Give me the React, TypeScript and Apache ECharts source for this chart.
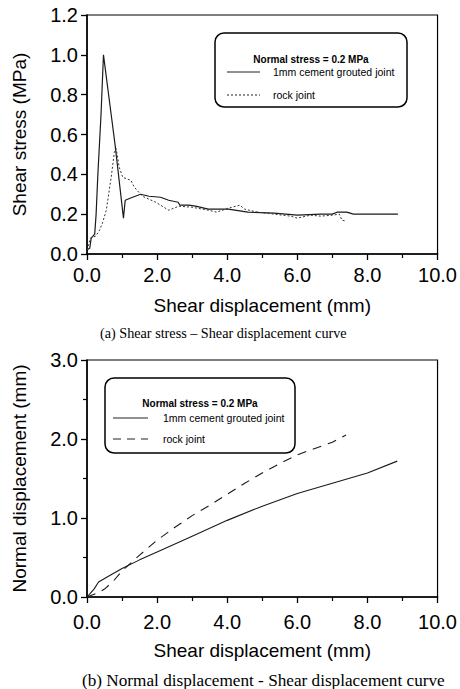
import { useEffect, useRef } from "react";
import * as echarts from "echarts";

// ---- Data: (a) shear stress vs shear displacement ----
const groutedShearX = [0, 0.08, 0.12, 0.22, 0.26, 0.31, 0.4, 0.47, 0.8, 1.04, 1.09, 1.3, 1.53, 1.77, 2.1, 2.33, 2.6, 2.65, 2.9, 3.1, 3.46, 4.03, 4.59, 5.34, 6.0, 6.66, 7.0, 7.13, 7.41, 7.6, 8.87];
const groutedShearY = [0.02, 0.03, 0.08, 0.1, 0.2, 0.4, 0.7, 1.0, 0.55, 0.18, 0.27, 0.285, 0.3, 0.29, 0.285, 0.27, 0.26, 0.245, 0.245, 0.24, 0.225, 0.225, 0.21, 0.205, 0.195, 0.2, 0.2, 0.21, 0.21, 0.2, 0.2];
const rockShearX = [0, 0.1, 0.25, 0.36, 0.45, 0.55, 0.69, 0.78, 0.83, 0.92, 1.02, 1.25, 1.35, 1.58, 1.96, 2.33, 2.62, 2.99, 3.46, 3.7, 4.03, 4.36, 4.5, 4.87, 5.34, 5.81, 6.0, 6.38, 6.66, 7.0, 7.2, 7.27, 7.39];
const rockShearY = [0.02, 0.08, 0.09, 0.12, 0.16, 0.22, 0.385, 0.51, 0.53, 0.435, 0.385, 0.37, 0.335, 0.29, 0.26, 0.22, 0.24, 0.235, 0.22, 0.21, 0.23, 0.245, 0.225, 0.21, 0.2, 0.19, 0.18, 0.195, 0.19, 0.195, 0.2, 0.17, 0.165];

// ---- Data: (b) normal displacement vs shear displacement ----
const groutedNormalX = [0, 0.1, 0.2, 0.33, 0.6, 1.0, 1.5, 2.0, 3.0, 4.0, 5.0, 6.0, 7.0, 8.0, 8.85];
const groutedNormalY = [0, 0.05, 0.1, 0.19, 0.26, 0.36, 0.47, 0.57, 0.77, 0.97, 1.15, 1.31, 1.44, 1.57, 1.72];
const rockNormalX = [0, 0.3, 0.5, 0.75, 1.0, 1.5, 2.0, 2.5, 3.0, 3.5, 4.0, 4.5, 5.0, 5.5, 6.0, 6.5, 7.0, 7.39];
const rockNormalY = [0, 0.05, 0.1, 0.2, 0.33, 0.53, 0.72, 0.88, 1.03, 1.16, 1.3, 1.44, 1.57, 1.69, 1.8, 1.88, 1.96, 2.05];

const seriesNames = ["1mm cement grouted joint", "rock joint"];
const legendTitle = "Normal stress = 0.2 MPa";
const captionA = "(a) Shear stress \u2013 Shear displacement curve";
const captionB = "(b) Normal displacement - Shear displacement curve";
const xTitle = "Shear displacement (mm)";
const yTitleA = "Shear stress (MPa)";
const yTitleB = "Normal displacement (mm)";

const SANS = "'Liberation Sans', Arial, sans-serif";
const SERIF = "'Liberation Serif', 'Times New Roman', serif";

const zip = (xs: number[], ys: number[]) => xs.map((x, i) => [x, ys[i]]);

function xAxisCfg(gridIndex: number, labelMargin: number, nameGap: number) {
  return {
    type: "value",
    gridIndex,
    min: 0,
    max: 10,
    interval: 2,
    name: xTitle,
    nameLocation: "middle",
    nameGap,
    nameTextStyle: { fontSize: 19, color: "#000", fontFamily: SANS },
    axisLine: { show: true, onZero: false, lineStyle: { color: "#000", width: 1.5 } },
    axisTick: { show: true, inside: false, length: 6, lineStyle: { color: "#000", width: 1.3 } },
    minorTick: { show: true, splitNumber: 2, length: 4, lineStyle: { color: "#000", width: 1.2 } },
    axisLabel: { margin: labelMargin, fontSize: 20, color: "#000", fontFamily: SANS, formatter: (v: number) => v.toFixed(1) },
    splitLine: { show: false },
  };
}

export default function App() {
  const ref = useRef<HTMLDivElement>(null);
  useEffect(() => {
    document.body.style.margin = "0";
    const chart = echarts.init(ref.current!, undefined, { renderer: "svg" });
    const legendBox = (bx: number, by: number, bw: number, bh: number, tx: number, ty: number, lx1: number, lx2: number, textX: number, r1: number, r2: number, dash: number[]) => ({
      type: "group",
      z: 100,
      children: [
        { type: "rect", shape: { x: bx, y: by, width: bw, height: bh, r: 9 }, style: { fill: "#fff", stroke: "#000", lineWidth: 1.5 } },
        { type: "text", x: tx, y: ty, style: { text: legendTitle, fontSize: 10, fontWeight: "bold", fontFamily: SANS, fill: "#000", align: "center", verticalAlign: "middle" } },
        { type: "line", shape: { x1: lx1, y1: r1, x2: lx2, y2: r1 }, style: { stroke: "#222", lineWidth: 1 } },
        { type: "text", x: textX, y: r1, style: { text: seriesNames[0], fontSize: 10.5, fontFamily: SANS, fill: "#000", align: "left", verticalAlign: "middle" } },
        { type: "line", shape: { x1: lx1, y1: r2, x2: lx2, y2: r2 }, style: { stroke: "#222", lineWidth: 1, lineDash: dash } },
        { type: "text", x: textX, y: r2, style: { text: seriesNames[1], fontSize: 10.5, fontFamily: SANS, fill: "#000", align: "left", verticalAlign: "middle" } },
      ],
    });
    chart.setOption({
      animation: false,
      backgroundColor: "#fff",
      grid: [
        { left: 87, top: 15, width: 355, height: 239, show: true, borderColor: "#000", borderWidth: 1.2, backgroundColor: "transparent" },
        { left: 87, top: 360, width: 354, height: 237, show: true, borderColor: "#000", borderWidth: 1.2, backgroundColor: "transparent" },
      ],
      xAxis: [xAxisCfg(0, 11, 42), xAxisCfg(1, 15, 44)],
      yAxis: [
        {
          type: "value", gridIndex: 0, min: 0, max: 1.2, interval: 0.2,
          name: yTitleA, nameLocation: "middle", nameGap: 58,
          nameTextStyle: { fontSize: 19, color: "#000", fontFamily: SANS },
          axisLine: { show: true, onZero: false, lineStyle: { color: "#000", width: 1.5 } },
          axisTick: { show: true, length: 6, lineStyle: { color: "#000", width: 1.3 } },
          axisLabel: { margin: 9, fontSize: 20, color: "#000", fontFamily: SANS, formatter: (v: number) => v.toFixed(1) },
          splitLine: { show: false },
        },
        {
          type: "value", gridIndex: 1, min: 0, max: 3, interval: 1,
          name: yTitleB, nameLocation: "middle", nameGap: 58,
          nameTextStyle: { fontSize: 19, color: "#000", fontFamily: SANS },
          axisLine: { show: true, onZero: false, lineStyle: { color: "#000", width: 1.5 } },
          axisTick: { show: true, length: 6, lineStyle: { color: "#000", width: 1.3 } },
          minorTick: { show: true, splitNumber: 2, length: 4, lineStyle: { color: "#000", width: 1.2 } },
          axisLabel: { margin: 9, fontSize: 20, color: "#000", fontFamily: SANS, formatter: (v: number) => v.toFixed(1) },
          splitLine: { show: false },
        },
      ],
      series: [
        { name: seriesNames[0], type: "line", xAxisIndex: 0, yAxisIndex: 0, symbol: "none", data: zip(groutedShearX, groutedShearY), lineStyle: { color: "#1a1a1a", width: 1.2 } },
        { name: seriesNames[1], type: "line", xAxisIndex: 0, yAxisIndex: 0, symbol: "none", data: zip(rockShearX, rockShearY), lineStyle: { color: "#333", width: 1, type: [2, 2] } },
        { name: seriesNames[0], type: "line", xAxisIndex: 1, yAxisIndex: 1, symbol: "none", data: zip(groutedNormalX, groutedNormalY), lineStyle: { color: "#1a1a1a", width: 1.1 } },
        { name: seriesNames[1], type: "line", xAxisIndex: 1, yAxisIndex: 1, symbol: "none", data: zip(rockNormalX, rockNormalY), lineStyle: { color: "#1a1a1a", width: 1.1, type: [9, 7] } },
      ],
      graphic: [
        legendBox(215, 33, 192, 74, 311, 59, 227, 260, 273, 72, 95, [2, 2]),
        legendBox(105, 378, 190, 75, 200, 403, 113, 148, 163, 418, 439, [8, 6]),
        { type: "text", x: 100, y: 333, style: { text: captionA, fontSize: 14.2, fontFamily: SERIF, fill: "#000", align: "left", verticalAlign: "middle" } },
        { type: "text", x: 82, y: 680, style: { text: captionB, fontSize: 17.2, fontFamily: SERIF, fill: "#000", align: "left", verticalAlign: "middle" } },
      ],
    });
    return () => chart.dispose();
  }, []);
  return <div ref={ref} style={{ width: 460, height: 689 }} />;
}
